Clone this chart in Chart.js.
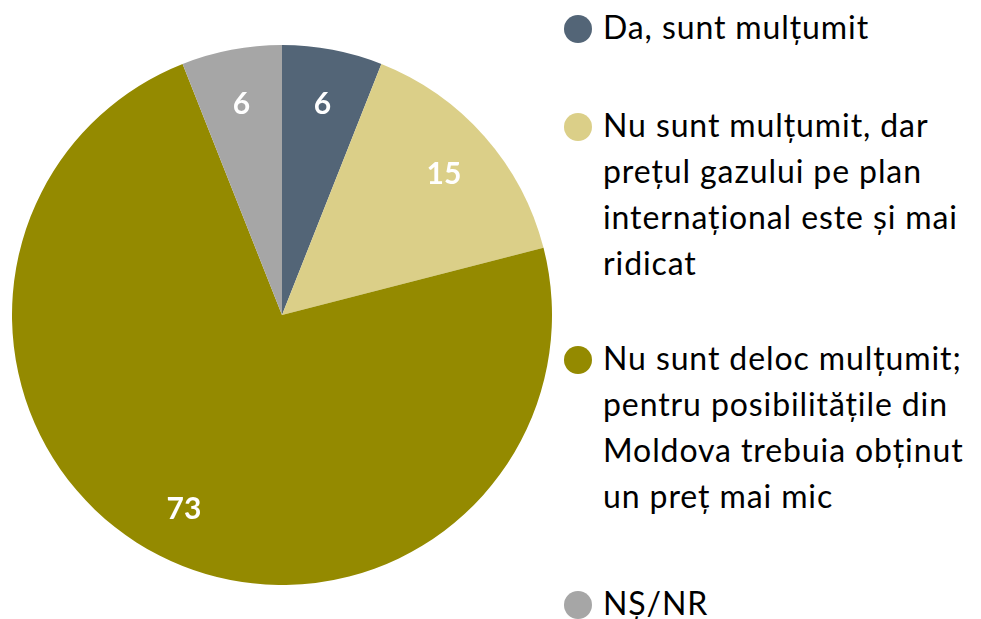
<!DOCTYPE html>
<html>
<head>
<meta charset="utf-8">
<script src="https://cdn.jsdelivr.net/npm/chart.js@4.4.1/dist/chart.umd.min.js"></script>
<style>
  html, body { margin: 0; padding: 0; background: #fff; }
  body { width: 981px; height: 619px; position: relative; overflow: hidden; font-family: Lato, "Open Sans", sans-serif; }
  #pie-wrap { position: absolute; left: 12px; top: 45px; width: 540px; height: 540px; }
  #legend { position: absolute; left: 562px; top: 0; width: 419px; }
  .item { position: absolute; left: 0; font-size: 32px; line-height: 46px; letter-spacing: 0.9px; color: #000; }
  .dot { position: absolute; left: 2px; width: 28px; height: 28px; border-radius: 50%; top: 11px; }
  .txt { position: absolute; left: 41px; white-space: nowrap; }
</style>
</head>
<body>
<div id="pie-wrap"><canvas id="pie"></canvas></div>
<div id="legend"></div>
<script>
"use strict";

const categories = [
  "Da, sunt mulțumit",
  "Nu sunt mulțumit, dar prețul gazului pe plan internațional este și mai ridicat",
  "Nu sunt deloc mulțumit; pentru posibilitățile din Moldova trebuia obținut un preț mai mic",
  "NȘ/NR",
];
const legendLines = [
  ["Da, sunt mulțumit"],
  ["Nu sunt mulțumit, dar", "prețul gazului pe plan", "internațional este și mai", "ridicat"],
  ["Nu sunt deloc mulțumit;", "pentru posibilitățile din", "Moldova trebuia obținut", "un preț mai mic"],
  ["NȘ/NR"],
];
const values = [6, 15, 73, 6];
const colors = ["#536577", "#DBCF88", "#948A00", "#A6A6A6"];

// legend (html, wrapped like the original)
const legendTops = [4, 102, 335, 580];
const legend = document.getElementById("legend");
legendLines.forEach((lines, i) => {
  const item = document.createElement("div");
  item.className = "item";
  item.style.top = legendTops[i] + "px";
  const dot = document.createElement("div");
  dot.className = "dot";
  dot.style.background = colors[i];
  const txt = document.createElement("div");
  txt.className = "txt";
  txt.innerHTML = lines.join("<br>");
  item.appendChild(dot);
  item.appendChild(txt);
  legend.appendChild(item);
});

const sliceLabels = {
  id: "sliceLabels",
  afterDatasetsDraw(chart) {
    const ctx = chart.ctx;
    const meta = chart.getDatasetMeta(0);
    ctx.save();
    ctx.fillStyle = "#fff";
    ctx.font = "bold 30px Lato, 'Open Sans', sans-serif";
    ctx.textAlign = "center";
    ctx.textBaseline = "middle";
    meta.data.forEach((arc, i) => {
      const p = arc.getProps(["x", "y", "startAngle", "endAngle", "outerRadius"], true);
      const mid = (p.startAngle + p.endAngle) / 2;
      const r = p.outerRadius * 0.8;
      ctx.fillText(String(values[i]), p.x + Math.cos(mid) * r, p.y + Math.sin(mid) * r + 2);
    });
    ctx.restore();
  },
};

new Chart(document.getElementById("pie"), {
  type: "pie",
  data: {
    labels: categories,
    datasets: [{ data: values, backgroundColor: colors, borderWidth: 0 }],
  },
  options: {
    responsive: true,
    maintainAspectRatio: false,
    animation: false,
    layout: { padding: 0 },
    plugins: { legend: { display: false }, tooltip: { enabled: false } },
  },
  plugins: [sliceLabels],
});
</script>
</body>
</html>
